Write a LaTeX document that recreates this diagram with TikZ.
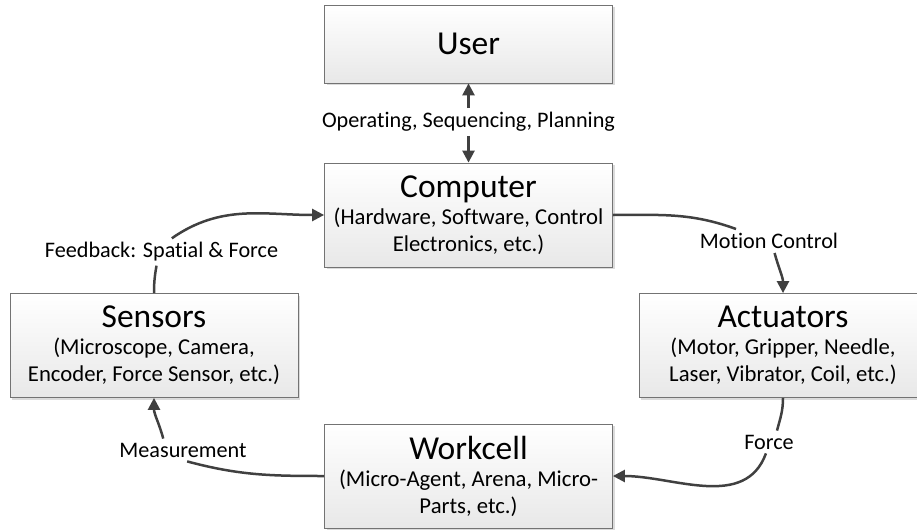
\documentclass[tikz,border=0pt]{standalone}
\usepackage{fontspec}
\setmainfont{Carlito}[Ligatures=NoCommon]
\usetikzlibrary{positioning,calc,arrows.meta,shadows}
\newcommand{\blocktitle}{\fontsize{33.5}{40}\selectfont}
\newcommand{\blocktext}{\fontsize{22.7}{27}\selectfont}
\newcommand{\flowtext}{\fontsize{22.2}{26}\selectfont}

\begin{document}
\begin{tikzpicture}[x=1pt,y=1pt,
  block/.style={draw=black!55, line width=0.8pt, top color=white, bottom color=black!9,
    minimum width=288pt, minimum height=104pt, align=center, font=\blocktext, inner sep=2pt,
    drop shadow={shadow xshift=2pt, shadow yshift=-2pt, fill=black!14, opacity=1}},
  flowlabel/.style={font=\flowtext, inner sep=4pt},
  flow/.style={draw=black!75, line width=2.5pt, -{Triangle[length=12pt,width=12pt]}}]
\useasboundingbox (0,0) rectangle (917,531);

% blocks
\node[block, minimum height=78pt] (user) at (468.5,487) {\blocktitle User};
\node[block] (computer) at (468.5,316) {{\blocktitle Computer}\\(Hardware, Software, Control\\Electronics, etc.)};
\node[block] (sensors) at (154,185.5) {{\blocktitle Sensors}\\(Microscope, Camera,\\Encoder, Force Sensor, etc.)};
\node[block] (actuators) at (783,185.5) {{\blocktitle Actuators}\\(Motor, Gripper, Needle,\\Laser, Vibrator, Coil, etc.)};
\node[block] (workcell) at (468.5,55) {{\blocktitle Workcell}\\(Micro-Agent, Arena, Micro-\\Parts, etc.)};

% labels
\node[flowlabel] (plan) at (468.5,409) {Operating, Sequencing, Planning};
\node[flowlabel] (motion) at (769,290) {Motion Control};
\node[flowlabel] (force) at (769,89) {Force};
\node[flowlabel] (measure) at (183,81) {Measurement};
\node[flowlabel] (feedback) at (161.5,279) {Feedback: Spatial \& Force};

% connectors
\draw[flow] (plan) -- (user);
\draw[flow] (plan) -- (computer);
\draw[flow] (computer.east) to[out=0,in=160] (motion.160) (motion.-65) to[out=-75,in=90] (actuators.north);
\draw[flow] (actuators.south) to[out=-90,in=75] (force.55) (force.-105) to[out=-110,in=0] (workcell.east);
\draw[flow] (workcell.west) to[out=180,in=-15] (measure.-70) (measure.150) to[out=105,in=-90] (sensors.south);
\draw[flow] (sensors.north) to[out=90,in=-100] (feedback.-110) (feedback.53) to[out=35,in=180] (computer.west);
\end{tikzpicture}
\end{document}
